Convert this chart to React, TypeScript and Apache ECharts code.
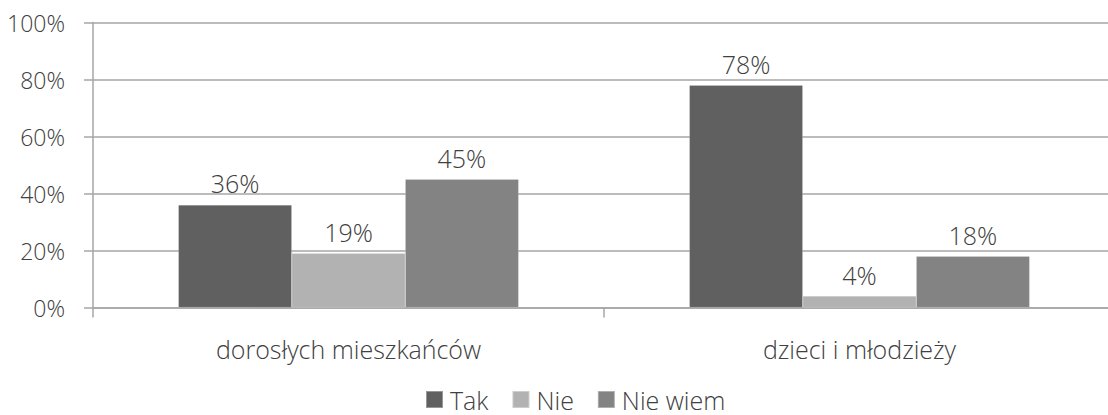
import React, { useEffect, useRef } from "react";
import * as echarts from "echarts";

const categories = ["dorosłych mieszkańców", "dzieci i młodzieży"];
const seriesNames = ["Tak", "Nie", "Nie wiem"];
const takValues = [36, 78];
const nieValues = [19, 4];
const nieWiemValues = [45, 18];
const colors = ["#606060", "#b2b2b2", "#838383"];
const font = "'Open Sans', 'Segoe UI', sans-serif";

export default function App() {
  const ref = useRef<HTMLDivElement>(null);
  useEffect(() => {
    if (!ref.current) return;
    const chart = echarts.init(ref.current, undefined, { renderer: "svg" });
    const values = [takValues, nieValues, nieWiemValues];
    chart.setOption({
      animation: false,
      backgroundColor: "#ffffff",
      textStyle: { fontFamily: font, fontWeight: 300 },
      grid: { left: 93, width: 1022, top: 22.5, height: 285, containLabel: false, outerBoundsMode: "none" },
      legend: {
        bottom: 3,
        left: 420,
        icon: "rect",
        itemWidth: 17,
        itemHeight: 17,
        itemGap: 23,
        padding: [0, 5, 0, 5],
        textStyle: { fontSize: 25, lineHeight: 25, color: "#404040", fontFamily: font, fontWeight: 300, padding: [0, 0, 0, 2] },
        data: seriesNames,
      },
      xAxis: {
        type: "category",
        data: categories,
        axisLine: { lineStyle: { color: "#a6a6a6", width: 1.5 } },
        axisTick: { show: true, length: 10, lineStyle: { color: "#a6a6a6", width: 1.5 } },
        axisLabel: { fontSize: 25, color: "#404040", margin: 29, fontFamily: font, fontWeight: 300 },
      },
      yAxis: {
        type: "value",
        min: 0,
        max: 100,
        interval: 20,
        axisLine: { show: true, lineStyle: { color: "#a6a6a6", width: 1.5 } },
        axisTick: { show: true, length: 9, lineStyle: { color: "#a6a6a6", width: 1.5 } },
        splitLine: { lineStyle: { color: "#a6a6a6", width: 1.5 } },
        axisLabel: { formatter: "{value}%", fontSize: 23, color: "#404040", margin: 28, fontFamily: font, fontWeight: 300 },
      },
      series: seriesNames.map((name, i) => ({
        name,
        type: "bar",
        data: values[i],
        barGap: "0%",
        barCategoryGap: "33.4%",
        itemStyle: { color: colors[i], borderColor: "rgba(255,255,255,0.35)", borderWidth: 0.5 },
        label: {
          show: true,
          position: "top",
          distance: 9,
          formatter: "{c}%",
          fontSize: 25,
          color: "#404040",
          fontFamily: font,
          fontWeight: 300,
        },
      })),
    });
    return () => chart.dispose();
  }, []);
  return (
    <div
      ref={ref}
      style={{ position: "absolute", left: 0, top: 0, width: 1108, height: 415, overflow: "hidden" }}
    />
  );
}
